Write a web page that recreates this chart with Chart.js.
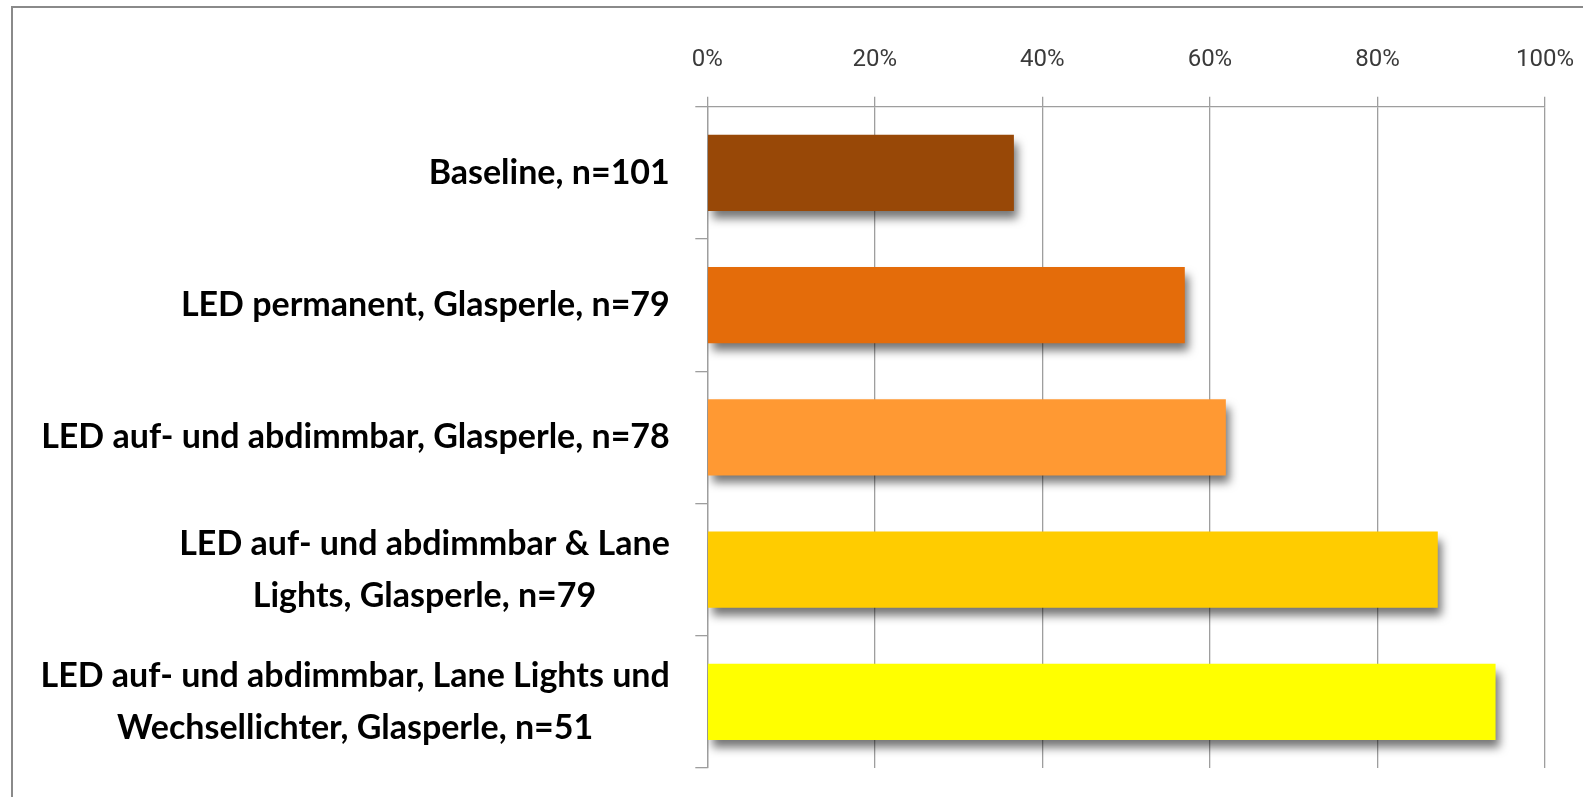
<!DOCTYPE html>
<html>
<head>
<meta charset="utf-8">
<script src="https://cdn.jsdelivr.net/npm/chart.js@4/dist/chart.umd.min.js"></script>
<style>
  html, body { margin: 0; padding: 0; background: #fff; }
  #wrap { position: relative; width: 1583px; height: 797px; overflow: hidden; }
  #frame { position: absolute; left: 11px; top: 6px; width: 1700px; height: 900px;
           border: 2.5px solid #8a8a8a; box-sizing: border-box; pointer-events: none; }
  canvas { position: absolute; left: 0; top: 0; }
</style>
</head>
<body>
<div id="wrap">
  <canvas id="chart" width="1583" height="797"></canvas>
  <div id="frame"></div>
</div>
<script>
// Categories (multi-line labels are arrays of lines)
const categories = [
  ['Baseline, n=101'],
  ['LED permanent, Glasperle, n=79'],
  ['LED auf- und abdimmbar, Glasperle, n=78'],
  ['LED auf- und abdimmbar & Lane', 'Lights, Glasperle, n=79'],
  ['LED auf- und abdimmbar, Lane Lights und', 'Wechsellichter, Glasperle, n=51']
];
// Share in percent
const values = [36.6, 57.0, 61.9, 87.2, 94.1];
const barColors = ['#984807', '#E46C0A', '#FF9933', '#FFCC00', '#FFFF00'];
const tickValues = [0, 20, 40, 60, 80, 100];

const gridColor = '#9e9e9e';
const labelFont = 'bold 34px Lato, "DejaVu Sans Condensed", sans-serif';
const labelLineHeight = 52;
const labelGap = 25.5;         // space between label block and y tick marks

// Soft drop shadow under the bars
const barShadow = {
  id: 'barShadow',
  beforeDatasetsDraw(chart) {
    const ctx = chart.ctx;
    ctx.save();
    ctx.shadowColor = 'rgba(0,0,0,0.55)';
    ctx.shadowBlur = 9;
    ctx.shadowOffsetX = 4;
    ctx.shadowOffsetY = 8;
  },
  afterDatasetsDraw(chart) {
    chart.ctx.restore();
  }
};

// Category labels: block right-aligned to the axis, lines centred within the block
const categoryLabels = {
  id: 'categoryLabels',
  afterDraw(chart) {
    const ctx = chart.ctx;
    const y = chart.scales.y;
    const right = y.right - y.options.grid.tickLength - labelGap;
    ctx.save();
    ctx.font = labelFont;
    ctx.fillStyle = '#000';
    ctx.textAlign = 'center';
    ctx.textBaseline = 'middle';
    categories.forEach((lines, i) => {
      const cy = y.getPixelForTick(i);
      const w = Math.max(...lines.map(l => ctx.measureText(l).width));
      const cx = right - w / 2;
      const top = cy - (lines.length - 1) * labelLineHeight / 2;
      lines.forEach((l, k) => ctx.fillText(l, cx, top + k * labelLineHeight));
    });
    ctx.restore();
  }
};

new Chart(document.getElementById('chart'), {
  type: 'bar',
  data: {
    labels: categories,
    datasets: [{
      data: values,
      backgroundColor: barColors,
      borderWidth: 0,
      barPercentage: 0.576,
      categoryPercentage: 1.0
    }]
  },
  options: {
    indexAxis: 'y',
    responsive: false,
    animation: false,
    events: [],
    layout: { padding: { left: 0, top: 0, right: 38, bottom: 29 } },
    plugins: { legend: { display: false }, tooltip: { enabled: false } },
    scales: {
      x: {
        type: 'linear',
        position: 'top',
        min: 0,
        max: 100,
        afterBuildTicks(scale) { scale.ticks = tickValues.map(v => ({ value: v })); },
        afterFit(scale) { scale.height = 106.7; scale.paddingLeft = 0; scale.paddingRight = 0; },
        ticks: {
          callback: v => v + '%',
          color: '#3a3a3a',
          padding: 22,
          maxRotation: 0,
          font: { family: 'Roboto, sans-serif', size: 24 }
        },
        grid: { color: gridColor, lineWidth: 1.3, tickLength: 10, drawTicks: true },
        border: { display: true, color: gridColor, width: 1.3 }
      },
      y: {
        type: 'category',
        offset: true,
        afterFit(scale) { scale.width = 707.3; },
        ticks: { display: false },
        grid: { offset: true, drawOnChartArea: false, drawTicks: true, tickLength: 12, color: gridColor, lineWidth: 1.3 },
        border: { display: true, color: gridColor, width: 1.3 }
      }
    }
  },
  plugins: [barShadow, categoryLabels]
});
</script>
</body>
</html>
